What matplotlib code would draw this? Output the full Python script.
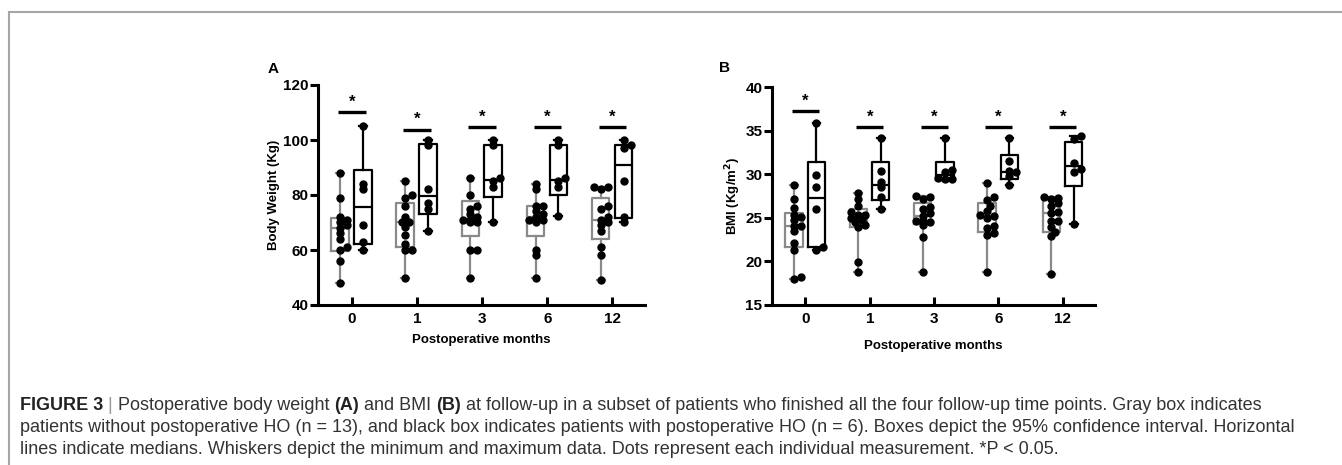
import numpy as np
import matplotlib.pyplot as plt
from matplotlib.lines import Line2D

plt.rcParams['font.family'] = ['Liberation Sans', 'DejaVu Sans']

months = ['0', '1', '3', '6', '12']

# Body weight (Kg), no HO (n = 13) and HO (n = 6), one list per month
weight_no_ho = [
    [88, 79, 72, 71, 70, 69, 68, 66, 64, 61, 60, 56, 48],
    [85, 80, 79, 76, 72, 70, 70, 68.5, 65.5, 62, 60, 60, 50],
    [86, 80, 76, 75, 73, 72, 71, 71, 70, 70, 60, 60, 50],
    [84, 82, 76, 76, 74, 73, 72, 71, 71, 70, 60, 58, 50],
    [83, 83, 82, 76, 75, 72, 71, 70, 69, 67, 61, 58, 49],
]
weight_ho = [
    [105, 84, 82, 69, 63, 60],
    [100, 98, 82, 77, 75, 67],
    [100, 98, 86, 85, 83, 70],
    [100, 98, 86, 85, 83, 72.5],
    [100, 98, 97, 85, 72, 70],
]
# 95% confidence interval (box limits)
weight_ci_no_ho = [(59.7, 71.5), (61.2, 77), (65.1, 77.9), (65.1, 76), (63.9, 79)]
weight_ci_ho = [(62.2, 89.1), (73, 98.4), (79.4, 98.2), (80, 98.2), (71.5, 98.2)]

# BMI (Kg/m2)
bmi_no_ho = [
    [28.8, 27.1, 26.1, 25.3, 25.1, 24.7, 24.1, 24.1, 23.5, 22.1, 21.3, 18.2, 18.0],
    [27.9, 27.1, 26.4, 25.7, 25.3, 25.3, 25.0, 24.7, 24.5, 24.2, 24.0, 19.9, 18.8],
    [27.5, 27.4, 27.2, 26.2, 26.0, 25.5, 25.2, 24.6, 24.6, 24.5, 24.2, 22.8, 18.8],
    [29.0, 27.4, 27.0, 26.3, 25.8, 25.3, 25.2, 25.0, 24.1, 23.8, 23.3, 23.0, 18.8],
    [27.4, 27.3, 27.2, 26.7, 26.4, 25.7, 25.5, 24.6, 24.6, 24.0, 23.4, 22.9, 18.5],
]
bmi_ho = [
    [35.9, 29.9, 28.5, 26.0, 21.6, 21.3],
    [34.2, 30.4, 29.1, 28.5, 27.4, 26.0],
    [34.2, 30.5, 30.3, 29.6, 29.5, 29.4],
    [34.2, 31.5, 30.4, 30.2, 29.8, 28.8],
    [34.4, 34.0, 31.3, 30.6, 30.2, 24.3],
]
bmi_ci_no_ho = [(21.7, 25.6), (24.0, 26.0), (24.3, 26.7), (23.4, 26.7), (23.4, 27.1)]
bmi_ci_ho = [(21.7, 31.4), (27.0, 31.4), (29.3, 31.4), (29.5, 32.2), (28.6, 33.7)]

# height of the significance bars
weight_sig = [110.2, 103.8, 104.6, 104.6, 104.6]
bmi_sig = [37.2, 35.4, 35.4, 35.4, 35.4]

GRAY = '#8a8a8a'
W, H, DPI = 1342, 465, 100

fig = plt.figure(figsize=(W / DPI, H / DPI), dpi=DPI)


def swarm(vals, center, ax, d=5.0):
    # simple beeswarm so the dots do not pile up (works in pixels)
    bb = ax.get_position()
    x0, x1 = ax.get_xlim()
    y0, y1 = ax.get_ylim()
    ppx = bb.width * W / (x1 - x0)
    ppy = bb.height * H / (y1 - y0)
    step = 3.5
    placed = []
    xs = np.zeros(len(vals))
    for i in np.argsort(vals):
        y = vals[i] * ppy
        best, best_cost = 0, None
        for k in [0, 1, -1, 2, -2]:
            x = k * step
            cost = sum(1 for px, py in placed if (x - px) ** 2 + (y - py) ** 2 < d ** 2)
            if best_cost is None or cost < best_cost:
                best, best_cost = x, cost
            if cost == 0:
                break
        placed.append((best, y))
        xs[i] = center + best / ppx
    return xs


def panel(ax, no_ho, ho, ci_no, ci_ho, sig, ylim, yticks, ylabel):
    ax.set_xlim(-0.52, 4.5)
    ax.set_ylim(*ylim)
    pos = np.arange(len(months))
    for data, ci, off, col in [(no_ho, ci_no, -0.18, GRAY), (ho, ci_ho, 0.17, 'black')]:
        stats = []
        for vals, (lo, hi) in zip(data, ci):
            stats.append(dict(med=np.median(vals), q1=lo, q3=hi,
                              whislo=min(vals), whishi=max(vals), fliers=[]))
        ax.bxp(stats, positions=pos + off, widths=0.27, showfliers=False,
               capwidths=0.12,
               boxprops=dict(color=col, lw=1.6),
               whiskerprops=dict(color=col, lw=1.6),
               capprops=dict(color=col, lw=1.6),
               medianprops=dict(color=col, lw=1.6),
               manage_ticks=False)
        for p, vals in zip(pos, data):
            xs = swarm(np.array(vals, float), p + off, ax)
            ax.plot(xs, vals, 'o', color='black', ms=5, zorder=5)
    for p, s in zip(pos, sig):
        ax.plot([p - 0.21, p + 0.21], [s, s], color='black', lw=2.4,
                solid_capstyle='butt')
        ax.text(p, s + (ylim[1] - ylim[0]) * 0.012, '*', ha='center', va='bottom',
                fontsize=12, fontweight='bold')
    ax.set_xticks(pos)
    ax.set_xticklabels(months)
    ax.set_yticks(yticks)
    for s in ['top', 'right']:
        ax.spines[s].set_visible(False)
    for s in ['left', 'bottom']:
        ax.spines[s].set_linewidth(2.2)
    ax.tick_params(axis='y', direction='out', length=6, width=2.2, labelsize=11, pad=1)
    ax.tick_params(axis='x', direction='in', length=6, width=2.2, labelsize=11, pad=5)
    for lab in ax.get_xticklabels() + ax.get_yticklabels():
        lab.set_fontweight('bold')
    ax.set_xlabel('Postoperative months', fontsize=9.5, fontweight='bold', labelpad=6)
    ax.set_ylabel(ylabel, fontsize=9.5, fontweight='bold', labelpad=2)


axA = fig.add_axes([318 / W, 1 - 305 / H, 327 / W, 220 / H])
axB = fig.add_axes([772 / W, 1 - 305 / H, 323 / W, 218 / H])
panel(axA, weight_no_ho, weight_ho, weight_ci_no_ho, weight_ci_ho, weight_sig,
      (40, 120), [40, 60, 80, 100, 120], 'Body Weight (Kg)')
panel(axB, bmi_no_ho, bmi_ho, bmi_ci_no_ho, bmi_ci_ho, bmi_sig,
      (15, 40), [15, 20, 25, 30, 35, 40], 'BMI (Kg/m$^\\mathbf{2}$)')
axB.xaxis.labelpad = 10

fig.text(268 / W, 1 - 69 / H, 'A', fontsize=11, fontweight='bold', va='center')
fig.text(719 / W, 1 - 68 / H, 'B', fontsize=11, fontweight='bold', va='center')

# frame around the figure
frame = dict(color='#a6a6a6', lw=1.5, transform=fig.transFigure)
fig.add_artist(Line2D([9 / W, 1], [1 - 12 / H, 1 - 12 / H], **frame))
fig.add_artist(Line2D([9 / W, 9 / W], [1 - 12 / H, 0], **frame))

# caption, written run by run so parts can be bold
caption = [
    [('FIGURE 3', 'bold', '#222222'), (' | ', 'normal', '#999999'),
     ('Postoperative body weight ', 'normal', '#333333'), ('(A)', 'bold', '#222222'),
     (' and BMI ', 'normal', '#333333'), ('(B)', 'bold', '#222222'),
     (' at follow-up in a subset of patients who finished all the four follow-up time points. Gray box indicates',
      'normal', '#333333')],
    [('patients without postoperative HO (n = 13), and black box indicates patients with postoperative HO (n = 6). '
      'Boxes depict the 95% confidence interval. Horizontal', 'normal', '#333333')],
    [('lines indicate medians. Whiskers depict the minimum and maximum data. Dots represent each individual '
      'measurement. *P < 0.05.', 'normal', '#333333')],
]
caption_y = [405, 427, 449]

renderer = fig.canvas.get_renderer()
for line, y in zip(caption, caption_y):
    x = 20
    for txt, weight, col in line:
        t = fig.text(x / W, 1 - y / H, txt, fontsize=13, fontweight=weight,
                     color=col, va='center', ha='left')
        x += t.get_window_extent(renderer).width

fig.savefig('out.png', dpi=DPI)
